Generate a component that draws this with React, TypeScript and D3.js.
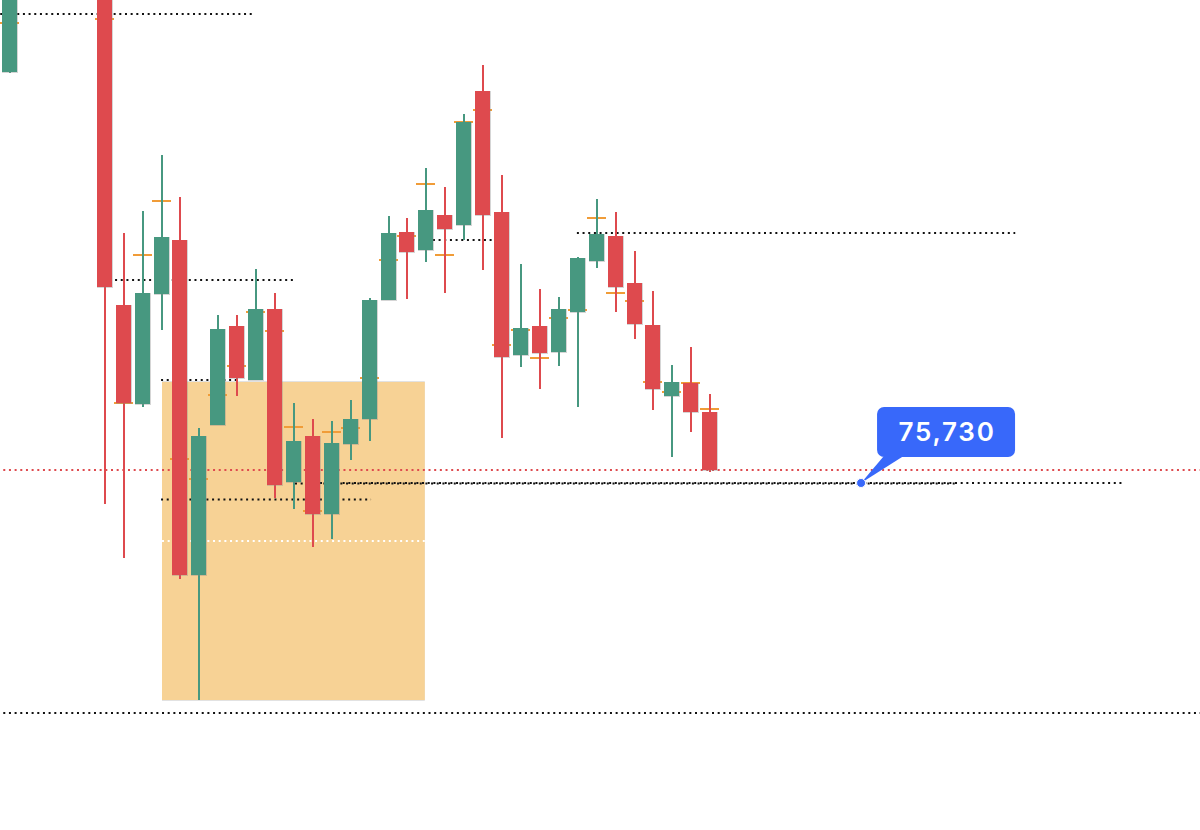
import React, { useEffect, useRef } from 'react';
import * as d3 from 'd3';

const WIDTH = 1200;
const HEIGHT = 830;

// bar slots, slots 1-4 have no candle on this view
const bars = [0, 5, 6, 7, 8, 9, 10, 11, 12, 13, 14, 15, 16, 17, 18, 19, 20, 21, 22, 23, 24, 25, 26, 27, 28, 29, 30, 31, 32, 33, 34, 35, 36, 37];
const opens = [79840, 81160, 77510, 76520, 77620, 78160, 74810, 76310, 77300, 76760, 77470, 75740, 76200, 75420, 76120, 76370, 77560, 78240, 78060, 78410, 78310, 79650, 78440, 77010, 77300, 77040, 77440, 77950, 78200, 77730, 77310, 76600, 76730, 76440];
const closes = [80960, 77690, 76530, 77630, 78190, 74810, 76200, 77270, 76780, 77470, 75710, 76150, 75420, 76130, 76370, 77560, 78230, 78040, 78460, 78270, 79340, 78410, 76990, 77280, 77030, 77470, 77980, 78220, 77690, 77320, 76670, 76740, 76440, 75860];
const highs = [81160, 81560, 78230, 78450, 79010, 78590, 76280, 77410, 77410, 77870, 77630, 76530, 76370, 76350, 76560, 77580, 78400, 78380, 78880, 78690, 79420, 79910, 78810, 77920, 77670, 77590, 77990, 78570, 78440, 78050, 77650, 76910, 77090, 76620];
const lows = [79830, 75520, 74980, 76490, 77260, 74770, 73560, 76310, 76600, 76760, 75580, 75470, 75090, 75170, 75960, 76150, 77560, 77570, 77940, 77630, 78160, 77860, 76180, 76890, 76670, 76900, 76490, 77880, 77440, 77170, 76460, 75990, 76240, 75840];
const marks = [80330, 80370, 76530, 78010, 78550, 75970, 75770, 76610, 76900, 77440, 77250, 76290, 75450, 76240, 76280, 76780, 77960, 78200, 78720, 78010, 79340, 79460, 77110, 77260, 76980, 77380, 77460, 78380, 77630, 77550, 76740, 76640, 76730, 76470];

// horizontal levels: price, first slot, last slot
const blackLevels: [number, number, number][] = [
  [80420, -0.5, 12.9],
  [77760, 5.57, 14.98],
  [76760, 8, 11.97],
  [78160, 22.37, 25.54],
  [78230, 29.98, 53.15],
  [75730, 16.4, 58.9],
  [75725, 15.08, 49.95],
  [75565, 8, 19.1],
  [73430, -0.34, 63.2],
];
const lastPrice: [number, number, number] = [75860, -0.34, 63.2];
const whiteLevel: [number, number, number] = [75150, 8.05, 21.94];

const zonePrices = [76740, 73560];
const zoneSlots = [8.05, 21.94];

const calloutSlot = 45;
const calloutPrice = 75730;

const UP = '#479880';
const DOWN = '#de4a4e';
const MARK = '#f09c38';
const BLUE = '#3868fa';

const App: React.FC = () => {
  const svgRef = useRef<SVGSVGElement>(null);

  useEffect(() => {
    if (!svgRef.current) return;

    const svg = d3.select(svgRef.current);
    svg.selectAll('*').remove();

    const x = d3.scaleLinear().domain([0, 37]).range([9.7, 709.7]);
    const y = d3.scaleLinear().domain([80560, 72260]).range([0, HEIGHT]);
    const left = (d: number) => Math.round(x(d) - 7.5);

    // zone with its faint grey edge
    const zoneX = x(zoneSlots[0]);
    const zoneW = x(zoneSlots[1]) - zoneX;
    const zoneY = y(zonePrices[0]);
    const zoneH = y(zonePrices[1]) - zoneY;
    svg.append('rect')
      .attr('x', zoneX)
      .attr('y', zoneY - 1)
      .attr('width', zoneW)
      .attr('height', zoneH + 2)
      .attr('fill', '#e2e2e2');
    svg.append('rect')
      .attr('x', zoneX)
      .attr('y', zoneY)
      .attr('width', zoneW)
      .attr('height', zoneH)
      .attr('fill', '#f7d295');

    const drawLevel = (level: [number, number, number], color: string) => {
      svg.append('line')
        .attr('x1', x(level[1]))
        .attr('x2', x(level[2]))
        .attr('y1', y(level[0]))
        .attr('y2', y(level[0]))
        .attr('stroke', color)
        .attr('stroke-width', 2)
        .attr('stroke-dasharray', '2 3.67');
    };

    blackLevels.forEach(level => drawLevel(level, '#111'));
    drawLevel(lastPrice, DOWN);
    drawLevel(whiteLevel, '#fff');

    // orange marks sit behind the candles
    svg.append('g')
      .selectAll('line')
      .data(bars)
      .join('line')
      .attr('x1', d => left(d) - 2)
      .attr('x2', d => left(d) + 17)
      .attr('y1', (_, i) => y(marks[i]))
      .attr('y2', (_, i) => y(marks[i]))
      .attr('stroke', MARK)
      .attr('stroke-width', 2);

    const colorOf = (i: number) => (closes[i] >= opens[i] ? UP : DOWN);

    svg.append('g')
      .selectAll('line')
      .data(bars)
      .join('line')
      .attr('x1', d => left(d) + 8)
      .attr('x2', d => left(d) + 8)
      .attr('y1', (_, i) => y(highs[i]))
      .attr('y2', (_, i) => y(lows[i]))
      .attr('stroke', (_, i) => colorOf(i))
      .attr('stroke-width', 2);

    // soft grey edge on the right of each body
    svg.append('g')
      .selectAll('rect')
      .data(bars)
      .join('rect')
      .attr('x', d => left(d))
      .attr('width', 16)
      .attr('y', (_, i) => y(Math.max(opens[i], closes[i])))
      .attr('height', (_, i) => Math.abs(y(opens[i]) - y(closes[i])) + 1)
      .attr('fill', '#888')
      .attr('opacity', 0.35);

    svg.append('g')
      .selectAll('rect')
      .data(bars)
      .join('rect')
      .attr('x', d => left(d))
      .attr('width', 15)
      .attr('y', (_, i) => y(Math.max(opens[i], closes[i])))
      .attr('height', (_, i) => Math.abs(y(opens[i]) - y(closes[i])))
      .attr('fill', (_, i) => colorOf(i));

    // callout
    const px = x(calloutSlot);
    const py = y(calloutPrice);
    const box = { x: px + 16, y: py - 76, w: 138, h: 50 };
    const tail = d3.path();
    tail.moveTo(px, py);
    tail.lineTo(px + 22, box.y + box.h);
    tail.lineTo(px + 41, box.y + box.h);
    tail.closePath();
    svg.append('path').attr('d', tail.toString()).attr('fill', BLUE);
    svg.append('rect')
      .attr('x', box.x)
      .attr('y', box.y)
      .attr('width', box.w)
      .attr('height', box.h)
      .attr('rx', 7)
      .attr('fill', BLUE);
    svg.append('circle')
      .attr('cx', px)
      .attr('cy', py)
      .attr('r', 4.5)
      .attr('fill', BLUE)
      .attr('stroke', '#fff')
      .attr('stroke-width', 1);
    svg.append('text')
      .attr('x', box.x + box.w / 2 + 1)
      .attr('y', box.y + 33.5)
      .attr('text-anchor', 'middle')
      .attr('fill', '#fff')
      .attr('font-family', 'Inter, sans-serif')
      .attr('font-size', 26)
      .attr('font-weight', 600)
      .attr('letter-spacing', 1.8)
      .text(d3.format(',')(calloutPrice));
  }, []);

  return (
    <svg
      ref={svgRef}
      width={WIDTH}
      height={HEIGHT}
      viewBox={`0 0 ${WIDTH} ${HEIGHT}`}
      style={{ position: 'absolute', left: 0, top: 0, background: '#fff' }}
    />
  );
};

export default App;
